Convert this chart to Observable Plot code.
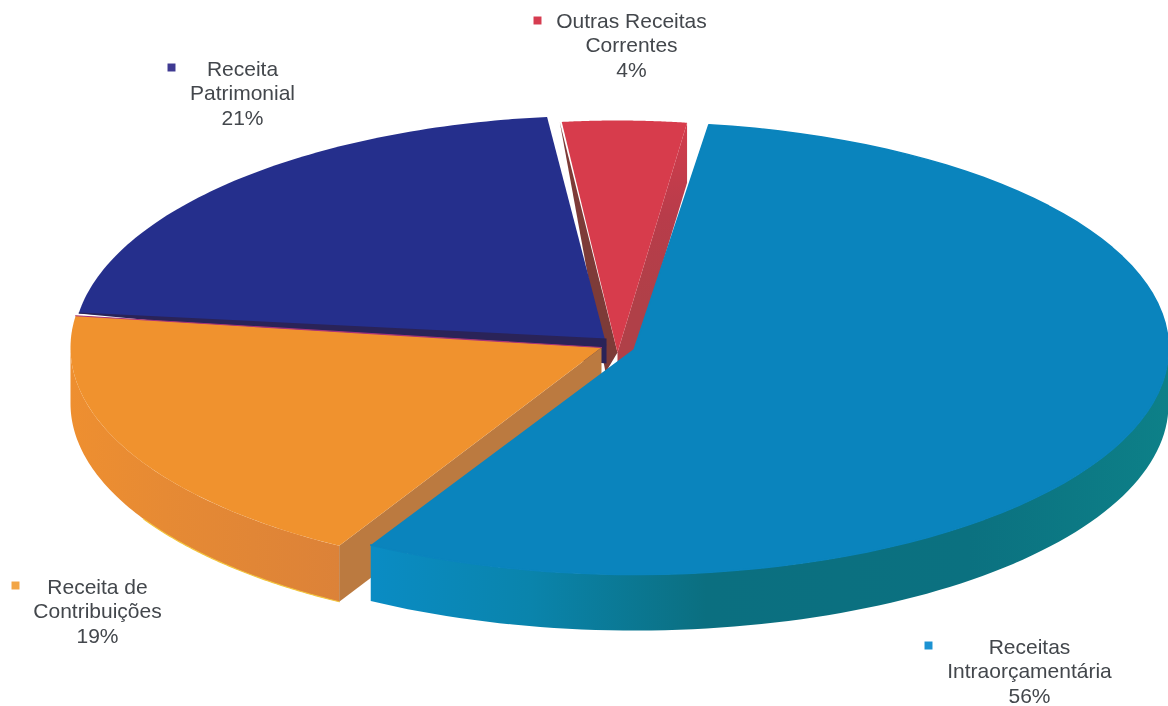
<!DOCTYPE html>
<html><head><meta charset="utf-8">
<script src="https://cdn.jsdelivr.net/npm/d3@7"></script>
<script src="https://cdn.jsdelivr.net/npm/@observablehq/plot@0.6"></script>
<style>html,body{margin:0;padding:0;background:#fff}svg{display:block;filter:blur(.6px)}</style>
</head><body><div id="chart"></div>
<script>
const categories = ["Receitas\nIntraorçamentária", "Receita de\nContribuições", "Receita\nPatrimonial", "Outras Receitas\nCorrentes"];
const shares = [56, 19, 21, 4];
const keyColors = ["#1c92d2", "#f2a545", "#3f3a92", "#d63c50"];

// drawing geometry of the tilted, exploded pie
const startAngle = 8, turn = 3.6, depth = 56;
const ellipses = [
  {cx: 634, cy: 348, rx: 534, ry: 226},
  {cx: 601, cy: 347, rx: 531, ry: 228},
  {cx: 606, cy: 345, rx: 533, ry: 230},
  {cx: 617, cy: 352, rx: 500, ry: 232}
];
const spans = [];
shares.reduce((a, v) => (spans.push([a, a + v * turn]), a + v * turn), startAngle);
const rad = d => d * Math.PI / 180;
const pt = (e, a, dy = 0) => ({x: e.cx + e.rx * Math.sin(rad(a)), y: e.cy - e.ry * Math.cos(rad(a)) + dy});
const arc = (e, a0, a1, dy = 0) => d3.range(0, 81).map(i => pt(e, a0 + (a1 - a0) * i / 80, dy));
const apex = e => ({x: e.cx, y: e.cy});
const top_ = i => [apex(ellipses[i]), ...arc(ellipses[i], spans[i][0], spans[i][1])];
const rim = (i, a0, a1) => [...arc(ellipses[i], a0, a1), ...arc(ellipses[i], a1, a0, depth)];
const cut = (i, a, d = depth) => {
  const e = ellipses[i], p = pt(e, a);
  return [apex(e), p, {x: p.x, y: p.y + d}, {x: e.cx, y: e.cy + d}];
};
const poly = (data, fill, extra = {}) => Plot.line(data, {x: "x", y: "y", fill, stroke: "none", curve: "linear", ...extra});

const navyEdge = pt(ellipses[2], spans[2][0]);
const redLeft = pt(ellipses[3], spans[3][0]);
const orangeEdge = pt(ellipses[1], spans[1][1]);

const labels = categories.map((c, i) => `${c}\n${shares[i]}%`);
const labelPos = [{x: 1029, y: 670}, {x: 97, y: 610}, {x: 242, y: 92}, {x: 631, y: 44}];
const keyPos = [{x: 928, y: 645}, {x: 15, y: 585}, {x: 171, y: 67}, {x: 537, y: 20}];

const plot = Plot.plot({
  width: 1168, height: 706, margin: 0,
  x: {domain: [0, 1168], range: [0, 1168], axis: null},
  y: {domain: [0, 706], range: [0, 706], axis: null},
  marks: [
    // red
    poly(cut(3, spans[3][1], 60), "url(#redSide)"),
    poly([{x: redLeft.x - 2, y: redLeft.y}, apex(ellipses[3]), {x: ellipses[3].cx - 12, y: ellipses[3].cy + 20}], "#7d3b38"),
    poly(top_(3), "#d73c4c"),
    // navy
    poly(top_(2), "#252f8c"),
    poly([{x: navyEdge.x, y: navyEdge.y - 1}, {x: ellipses[2].cx, y: ellipses[2].cy - 7}, apex(ellipses[2]), {x: ellipses[2].cx, y: ellipses[2].cy + 18}, navyEdge], "#2a2358"),
    // orange
    poly(rim(1, spans[1][0], 270), "url(#orangeSide)"),
    Plot.line(arc(ellipses[1], spans[1][0], spans[1][0] + 30, depth), {x: "x", y: "y", stroke: "#f2c43e", strokeWidth: 1.2}),
    poly(cut(1, spans[1][0]), "#bb7a40"),
    poly(top_(1), "#f0922e"),
    Plot.line([apex(ellipses[1]), orangeEdge], {x: "x", y: "y", stroke: "#a8337a", strokeWidth: 1.2}),
    // blue
    poly(rim(0, 90, spans[0][1]), "url(#blueSide)"),
    poly(top_(0), "#0a84bd", {stroke: "#0a84bd"}),
    // legend
    Plot.dot(keyPos, {x: "x", y: "y", symbol: "square", r: 4.5, fill: (d, i) => keyColors[i], stroke: "none"}),
    Plot.text(labels, {x: (d, i) => labelPos[i].x, y: (d, i) => labelPos[i].y, text: d => d, fontSize: 21, lineHeight: 1.17, fill: "#43474c", fontFamily: "Liberation Sans", textAnchor: "middle"})
  ]
});
plot.insertAdjacentHTML("afterbegin", `<defs>
<linearGradient id="blueSide" gradientUnits="userSpaceOnUse" x1="370" y1="0" x2="1168" y2="0">
<stop offset="0" stop-color="#0a8cc4"/><stop offset=".2" stop-color="#0a84ac"/><stop offset=".42" stop-color="#0b6f80"/><stop offset=".75" stop-color="#0b7180"/><stop offset="1" stop-color="#0d8088"/></linearGradient>
<linearGradient id="orangeSide" gradientUnits="userSpaceOnUse" x1="70" y1="0" x2="340" y2="0">
<stop offset="0" stop-color="#ee8f30"/><stop offset=".35" stop-color="#e68a34"/><stop offset="1" stop-color="#dc8238"/></linearGradient>
<linearGradient id="redSide" gradientUnits="userSpaceOnUse" x1="0" y1="130" x2="0" y2="300">
<stop offset="0" stop-color="#d03c4c"/><stop offset=".5" stop-color="#b83c4a"/><stop offset="1" stop-color="#b04048"/></linearGradient>
</defs>`);
plot.style.background = "#fff";
document.getElementById("chart").append(plot);
</script></body></html>
